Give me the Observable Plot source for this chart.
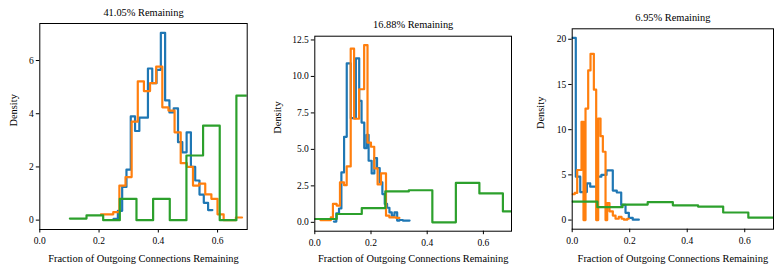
<!DOCTYPE html>
<html><head><meta charset="utf-8">
<script src="https://cdn.jsdelivr.net/npm/d3@7"></script>
<script src="https://cdn.jsdelivr.net/npm/@observablehq/plot@0.6"></script>
<style>
html,body{margin:0;padding:0;background:#fff;}
#chart{position:relative;width:774px;height:264px;overflow:hidden;background:#fff;}
#chart svg{position:absolute;top:0;overflow:visible;}
</style></head><body><div id="chart"></div>
<script>
// ---- text ----
const titles = ["41.05% Remaining", "16.88% Remaining", "6.95% Remaining"];
const xLabel = "Fraction of Outgoing Connections Remaining";
const yLabel = "Density";
const seriesNames = ["blue", "orange", "green"];
const seriesColors = ["#1f77b4", "#ff7f0e", "#2ca02c"];

// ---- ticks ----
const xTicks = [0, 0.2, 0.4, 0.6];
const yTicks1 = [0, 2, 4, 6];
const yTicks2 = [0, 2.5, 5, 7.5, 10, 12.5];
const yTicks3 = [0, 5, 10, 15, 20];

// ---- panel 1 (41.05% remaining): bin edges and densities ----
const p1BlueEdges = [0.249, 0.2635, 0.278, 0.2925, 0.307, 0.3215, 0.336, 0.3505, 0.365, 0.3795, 0.394, 0.4085, 0.423, 0.4375, 0.452, 0.4665, 0.481, 0.4955, 0.51, 0.5245, 0.539, 0.5535, 0.568, 0.5825];
const p1BlueDensity = [0.05, 0.35, 1.25, 1.9, 3.9, 3.35, 3.85, 3.85, 5.7, 5.15, 5.65, 7.04, 4.5, 4.05, 4.2, 2.93, 2.55, 3.3, 2.0, 1.49, 0.96, 0.65, 0.38];
const p1OrangeEdges = [0.2065, 0.2272, 0.2479, 0.2686, 0.2893, 0.31, 0.3307, 0.3514, 0.3721, 0.3928, 0.4135, 0.4342, 0.4549, 0.4756, 0.4963, 0.517, 0.5377, 0.5584, 0.5791, 0.5998, 0.6205, 0.6412, 0.6619, 0.6826];
const p1OrangeDensity = [0.22, 0.22, 0.3, 1.3, 1.62, 3.7, 5.22, 4.85, 5.15, 5.77, 4.24, 4.12, 3.3, 2.14, 2.0, 1.3, 1.37, 0.97, 0.8, 0.22, 0.0, 0.0, 0.1];
const p1GreenEdges = [0.1015, 0.1577, 0.2139, 0.2701, 0.3263, 0.3825, 0.4387, 0.4949, 0.5511, 0.6073, 0.6635, 0.7197];
const p1GreenDensity = [0.06, 0.18, 0, 0.8, 0, 0.8, 0, 2.43, 3.55, 0, 4.68];

// ---- panel 2 (16.88% remaining) ----
const p2BlueEdges = [0.068, 0.0766, 0.0862, 0.0946, 0.1042, 0.1137, 0.1209, 0.1281, 0.1371, 0.1461, 0.158, 0.1664, 0.176, 0.1844, 0.1915, 0.2023, 0.2118, 0.2214, 0.231, 0.2405, 0.2489, 0.2572, 0.2656, 0.274, 0.2835, 0.2931, 0.3015, 0.3134, 0.3373];
const p2BlueDensity = [0.05, 0.62, 0.95, 3.42, 5.86, 10.9, 10.9, 7.14, 7.14, 11.24, 8.32, 6.84, 5.09, 6.0, 4.22, 3.35, 4.4, 3.72, 2.74, 1.94, 1.26, 1.0, 0.68, 0.46, 0.68, 0.12, 0.16, 0.12];
const p2OrangeEdges = [0.0204, 0.057, 0.0645, 0.0777, 0.0896, 0.1039, 0.1135, 0.1278, 0.1398, 0.1577, 0.1756, 0.1876, 0.1998, 0.2115, 0.2235, 0.2355, 0.2534, 0.2654, 0.2774, 0.2894, 0.301];
const p2OrangeDensity = [0.15, 0.34, 1.26, 1.15, 2.74, 2.55, 3.83, 11.9, 7.1, 9.12, 12.15, 5.47, 5.18, 3.7, 2.6, 3.35, 0.46, 0.34, 0.34, 0.3];
const p2GreenEdges = [0, 0.078, 0.1672, 0.2509, 0.3346, 0.4183, 0.502, 0.5857, 0.6694, 0.7531];
const p2GreenDensity = [0.23, 0.57, 0.98, 2.12, 2.2, 0, 2.7, 1.98, 0.75];

// ---- panel 3 (6.95% remaining) ----
const p3BlueEdges = [0, 0.0125, 0.028, 0.04, 0.051, 0.0626, 0.075, 0.089, 0.1015, 0.1193, 0.1412, 0.155, 0.1704, 0.1854, 0.197, 0.2105, 0.2318];
const p3BlueDensity = [20.15, 4.8, 3.1, 3.1, 4.07, 3.7, 3.7, 4.8, 5.0, 5.5, 3.26, 3.05, 1.68, 0.8, 0.25, 0.05];
const p3OrangeEdges = [0, 0.0087, 0.0174, 0.0324, 0.0393, 0.0463, 0.0556, 0.0637, 0.0753, 0.0834, 0.0904, 0.0985, 0.1066, 0.1159, 0.1217, 0.1297, 0.1413, 0.1507, 0.162, 0.1716, 0.1797, 0.1913, 0.197];
const p3OrangeDensity = [2.86, 3.0, 5.54, 10.86, 0, 12.33, 16.55, 18.39, 14.43, 0, 11.23, 9.28, 7.56, 0, 1.87, 0.97, 0.5, 0.15, 0.35, 0.15, 0.05, 0.15];
const p3GreenEdges = [0, 0.0875, 0.175, 0.2625, 0.35, 0.4375, 0.525, 0.6125, 0.7];
const p3GreenDensity = [2.05, 1.43, 1.72, 1.98, 1.63, 1.5, 0.84, 0.27];

// ---- layout (page pixels) ----
const layout = [
  {left: 0,   width: 255, mL: 39.3, mR: 8.3, mT: 23,   mB: 35,   titleDy: -11,  xLabDy: 29.5, yLabDx: -26,  yTicks: yTicks1, yFmt: d3.format("d")},
  {left: 255, width: 259, mL: 59.3, mR: 3,   mT: 35.7, mB: 33.3, titleDy: -11.5, xLabDy: 27.8, yLabDx: -37.5, yTicks: yTicks2, yFmt: d3.format(".1f")},
  {left: 514, width: 260, mL: 57.7, mR: 1,   mT: 28.3, mB: 35.3, titleDy: -11.5, xLabDy: 29.5, yLabDx: -31.5, yTicks: yTicks3, yFmt: d3.format("d")}
];

const panels = [
  [[p1BlueEdges, p1BlueDensity], [p1OrangeEdges, p1OrangeDensity], [p1GreenEdges, p1GreenDensity]],
  [[p2BlueEdges, p2BlueDensity], [p2OrangeEdges, p2OrangeDensity], [p2GreenEdges, p2GreenDensity]],
  [[p3BlueEdges, p3BlueDensity], [p3OrangeEdges, p3OrangeDensity], [p3GreenEdges, p3GreenDensity]]
];

function stepPoints(edges, dens, name) {
  return edges.map((x, i) => ({x, y: dens[Math.min(i, dens.length - 1)], series: name}));
}

const font = "'Liberation Serif', 'Times New Roman', serif";
const chart = document.getElementById("chart");

panels.forEach((series, pi) => {
  const L = layout[pi];
  const ymax = d3.max(series.flatMap(([, d]) => d));
  const marks = series.map(([edges, dens], si) =>
    Plot.line(stepPoints(edges, dens, seriesNames[si]), {
      x: "x", y: "y", curve: "step-after",
      stroke: seriesColors[si], strokeWidth: 2.2, clip: true
    })
  );
  const plot = Plot.plot({
    width: L.width,
    height: 264,
    marginLeft: L.mL, marginRight: L.mR, marginTop: L.mT, marginBottom: L.mB,
    style: {fontFamily: font, fontSize: "9px", color: "black", background: "transparent"},
    x: {domain: [0, 0.7]},
    y: {domain: [-0.05 * ymax, 1.05 * ymax]},
    marks: [
      ...marks,
      Plot.frame({stroke: "black", strokeWidth: 1}),
      Plot.axisX(xTicks, {tickSize: 3.5, tickPadding: 4.5, tickFormat: d3.format(".1f"), label: null, fontSize: 9.5}),
      Plot.axisY(L.yTicks, {tickSize: 3.5, tickPadding: 2.5, tickFormat: L.yFmt, label: null, fontSize: 9.5}),
      Plot.text([titles[pi]], {text: d => d, frameAnchor: "top", dy: L.titleDy, lineAnchor: "middle", fontSize: 10.4, fill: "black"}),
      Plot.text([xLabel], {text: d => d, frameAnchor: "bottom", dy: L.xLabDy, lineAnchor: "middle", fontSize: 10.4, fill: "black"}),
      Plot.text([yLabel], {text: d => d, frameAnchor: "left", dx: L.yLabDx, rotate: -90, lineAnchor: "middle", fontSize: 10.4, fill: "black"})
    ]
  });
  plot.style.left = L.left + "px";
  chart.appendChild(plot);
});
</script>
</body></html>
